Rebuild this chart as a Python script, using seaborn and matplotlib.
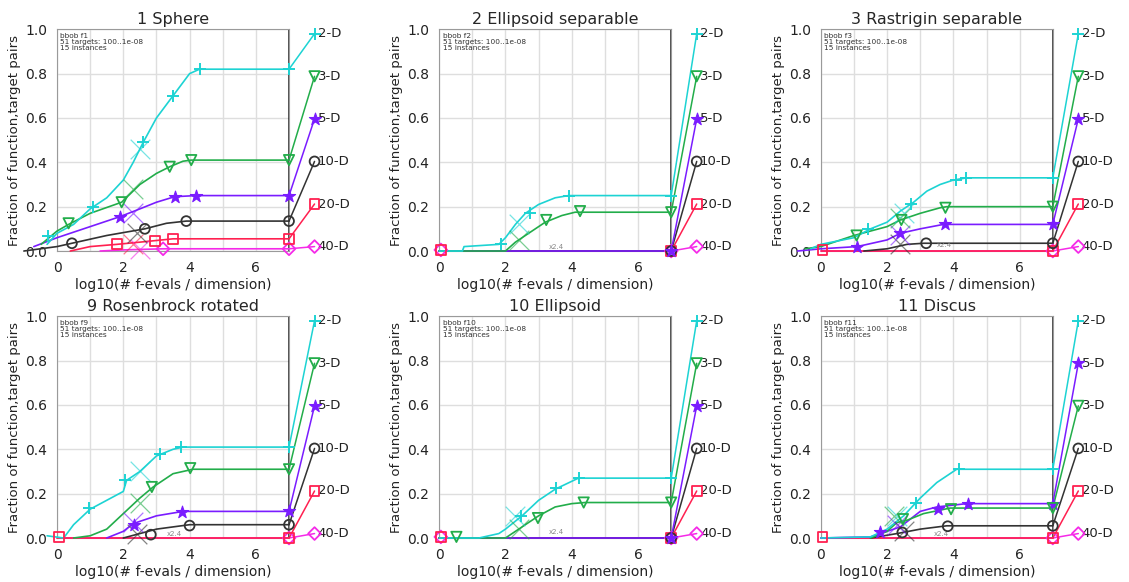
import matplotlib
matplotlib.use("Agg")
import matplotlib.pyplot as plt
from matplotlib.ticker import FixedLocator, FormatStrFormatter
import seaborn as sns

# ---------------- data ----------------
DIMS = ["2-D", "3-D", "5-D", "10-D", "20-D", "40-D"]
TITLES = ["1 Sphere", "2 Ellipsoid separable", "3 Rastrigin separable",
          "9 Rosenbrock rotated", "10 Ellipsoid", "11 Discus"]
FIDS = [1, 2, 3, 9, 10, 11]
LABEL_Y = [0.98, 0.788, 0.596, 0.404, 0.212, 0.02]
X_TICKS = [0, 2, 4, 6]
Y_TICKS = [0.0, 0.2, 0.4, 0.6, 0.8, 1.0]
MAX_X = 7.0
LABEL_X = 7.77

ZERO = ([0, 7], [0, 0])

# panel f1
F1_CURVES = {
    "2-D": ([-0.3, 0, 0.5, 1, 1.5, 2, 2.3, 2.6, 3, 3.5, 4, 4.3, 7],
            [0.03, 0.08, 0.12, 0.19, 0.24, 0.32, 0.40, 0.49, 0.60, 0.70, 0.80, 0.82, 0.82]),
    "3-D": ([-0.48, 0, 0.35, 1, 1.95, 2.5, 3, 3.4, 3.8, 4.05, 7],
            [0.03, 0.09, 0.12, 0.17, 0.22, 0.30, 0.35, 0.38, 0.405, 0.41, 0.41]),
    "5-D": ([-0.7, 0, 1, 1.9, 2.5, 3, 3.55, 4.2, 7],
            [0.02, 0.06, 0.11, 0.155, 0.19, 0.22, 0.245, 0.25, 0.25]),
    "10-D": ([-1.0, 0, 0.45, 1.5, 2.65, 3.3, 3.9, 7],
             [0.0, 0.02, 0.035, 0.07, 0.10, 0.125, 0.135, 0.135]),
    "20-D": ([0.4, 1, 1.8, 2.5, 3.5, 7], [0.0, 0.02, 0.03, 0.04, 0.055, 0.055]),
    "40-D": ([1.3, 2, 3.2, 7], [0.0, 0.005, 0.01, 0.01]),
}
F1_MARKS = {
    "2-D": ([-0.27, 1.1, 2.6, 3.5, 4.3, 7], [0.067, 0.2, 0.49, 0.70, 0.82, 0.82]),
    "3-D": ([0.35, 1.95, 3.4, 4.05, 7], [0.125, 0.22, 0.38, 0.41, 0.41]),
    "5-D": ([1.9, 3.55, 4.2, 7], [0.155, 0.245, 0.25, 0.25]),
    "10-D": ([0.45, 2.65, 3.9, 7], [0.035, 0.10, 0.135, 0.135]),
    "20-D": ([1.8, 2.95, 3.5, 7], [0.03, 0.045, 0.055, 0.055]),
    "40-D": ([3.2, 7], [0.01, 0.01]),
}
F1_CROSSES = {"2-D": (2.5, 0.46), "3-D": (2.3, 0.28), "5-D": (2.3, 0.17),
              "10-D": (2.4, 0.08), "20-D": (2.3, 0.03), "40-D": (2.5, 0.01)}
F1_ORDER = ["2-D", "3-D", "5-D", "10-D", "20-D", "40-D"]
F1_NOTE = None

# panel f2
F2_CURVES = {
    "2-D": ([0, 0.7, 0.75, 1.8, 2, 2.3, 2.6, 3, 3.5, 3.9, 7],
            [0, 0.0, 0.02, 0.03, 0.06, 0.12, 0.17, 0.21, 0.24, 0.25, 0.25]),
    "3-D": ([0, 2, 2.3, 2.7, 3.2, 3.7, 4.1, 7],
            [0, 0.0, 0.04, 0.08, 0.13, 0.16, 0.175, 0.175]),
    "5-D": ZERO, "10-D": ZERO, "20-D": ZERO, "40-D": ZERO,
}
F2_MARKS = {
    "2-D": ([1.88, 2.73, 3.93, 7], [0.03, 0.17, 0.25, 0.25]),
    "3-D": ([3.23, 4.25, 7], [0.14, 0.18, 0.175]),
    "5-D": ([7], [0]), "10-D": ([7], [0]),
    "20-D": ([0.05, 7], [0.005, 0]), "40-D": ([0.05, 7], [0.005, 0]),
}
F2_CROSSES = {"2-D": (2.4, 0.12), "3-D": (2.4, 0.05)}
F2_ORDER = ["2-D", "3-D", "5-D", "10-D", "20-D", "40-D"]
F2_NOTE = (3.3, 0.02)

# panel f3
F3_CURVES = {
    "2-D": ([-0.3, 0, 1, 1.5, 2, 2.4, 2.8, 3.2, 3.6, 4, 4.4, 7],
            [0.01, 0.03, 0.06, 0.10, 0.13, 0.18, 0.22, 0.27, 0.30, 0.32, 0.33, 0.33]),
    "3-D": ([-0.48, 0, 1, 2, 2.4, 3, 3.6, 3.8, 7],
            [0.01, 0.02, 0.07, 0.11, 0.14, 0.17, 0.195, 0.20, 0.20]),
    "5-D": ([-0.7, 0, 1.1, 2, 2.4, 3, 3.7, 7],
            [0.0, 0.01, 0.02, 0.05, 0.08, 0.10, 0.12, 0.12]),
    "10-D": ([1.3, 2, 2.6, 3.1, 7], [0.0, 0.01, 0.03, 0.035, 0.035]),
    "20-D": ZERO, "40-D": ZERO,
}
F3_MARKS = {
    "2-D": ([1.43, 2.73, 4.08, 4.38, 7], [0.10, 0.21, 0.32, 0.33, 0.33]),
    "3-D": ([1.08, 2.43, 3.76, 7], [0.07, 0.14, 0.195, 0.20]),
    "5-D": ([1.08, 2.38, 3.76, 7], [0.02, 0.08, 0.12, 0.12]),
    "10-D": ([3.18, 7], [0.035, 0.035]),
    "20-D": ([0.05, 7], [0.005, 0]), "40-D": ([7], [0]),
}
F3_CROSSES = {"2-D": (2.5, 0.17), "3-D": (2.4, 0.15), "5-D": (2.4, 0.07),
              "10-D": (2.4, 0.03)}
F3_ORDER = ["2-D", "3-D", "5-D", "10-D", "20-D", "40-D"]
F3_NOTE = (3.5, 0.025)

# panel f9
F9_CURVES = {
    "2-D": ([-0.3, 0.2, 0.5, 1, 1.5, 2, 2.1, 2.5, 3, 3.5, 3.8, 7],
            [0.01, 0.0, 0.06, 0.13, 0.17, 0.21, 0.26, 0.30, 0.37, 0.40, 0.41, 0.41]),
    "3-D": ([0.5, 1, 1.5, 2, 2.5, 2.9, 3.5, 4.1, 7],
            [0.0, 0.01, 0.04, 0.11, 0.18, 0.23, 0.29, 0.31, 0.31]),
    "5-D": ([1.5, 2, 2.3, 3, 3.8, 7], [0.0, 0.03, 0.065, 0.10, 0.12, 0.12]),
    "10-D": ([2, 2.5, 3, 4, 7], [0.0, 0.02, 0.04, 0.06, 0.06]),
    "20-D": ZERO, "40-D": ZERO,
}
F9_MARKS = {
    "2-D": ([0.98, 2.06, 3.1, 3.73, 7], [0.135, 0.26, 0.38, 0.41, 0.41]),
    "3-D": ([2.86, 4.02, 7], [0.23, 0.315, 0.31]),
    "5-D": ([2.33, 3.76, 7], [0.06, 0.117, 0.12]),
    "10-D": ([2.83, 4.0, 7], [0.015, 0.056, 0.06]),
    "20-D": ([0.05, 7], [0.005, 0]), "40-D": ([7], [0]),
}
F9_CROSSES = {"2-D": (2.5, 0.30), "3-D": (2.5, 0.16), "5-D": (2.3, 0.07),
              "10-D": (2.4, 0.02)}
F9_ORDER = ["2-D", "3-D", "5-D", "10-D", "20-D", "40-D"]
F9_NOTE = (3.3, 0.02)

# panel f10
F10_CURVES = {
    "2-D": ([0, 1.2, 1.8, 2, 2.5, 3, 3.5, 4.2, 7],
            [0, 0.0, 0.02, 0.04, 0.10, 0.17, 0.22, 0.27, 0.27]),
    "3-D": ([0, 2, 2.5, 3, 3.5, 4, 4.4, 7],
            [0, 0.0, 0.05, 0.10, 0.14, 0.155, 0.16, 0.16]),
    "5-D": ZERO, "10-D": ZERO, "20-D": ZERO, "40-D": ZERO,
}
F10_MARKS = {
    "2-D": ([2.48, 3.53, 4.23, 7], [0.10, 0.225, 0.27, 0.27]),
    "3-D": ([0.52, 2.98, 4.36, 7], [0.005, 0.09, 0.16, 0.16]),
    "5-D": ([7], [0]), "10-D": ([7], [0]),
    "20-D": ([0.05, 7], [0.005, 0]), "40-D": ([0.05, 7], [0.005, 0]),
}
F10_CROSSES = {"2-D": (2.3, 0.10), "3-D": (2.4, 0.04)}
F10_ORDER = ["2-D", "3-D", "5-D", "10-D", "20-D", "40-D"]
F10_NOTE = (3.3, 0.025)

# panel f11
F11_CURVES = {
    "2-D": ([0, 1.5, 2, 2.5, 3, 3.5, 4, 4.1, 7],
            [0, 0.005, 0.04, 0.10, 0.18, 0.25, 0.30, 0.31, 0.31]),
    "3-D": ([1.5, 2, 2.3, 2.6, 3.1, 3.9, 7],
            [0.0, 0.03, 0.07, 0.08, 0.11, 0.135, 0.135]),
    "5-D": ([0, 1.5, 1.8, 2.4, 3, 3.5, 4.4, 7],
            [0, 0.005, 0.02, 0.05, 0.12, 0.14, 0.155, 0.155]),
    "10-D": ([1.5, 2.3, 3, 3.8, 7], [0.0, 0.02, 0.04, 0.055, 0.055]),
    "20-D": ZERO, "40-D": ZERO,
}
F11_MARKS = {
    "2-D": ([2.88, 4.16, 7], [0.16, 0.31, 0.31]),
    "3-D": ([2.48, 3.93, 7], [0.085, 0.13, 0.135]),
    "5-D": ([1.8, 3.53, 4.43, 7], [0.025, 0.13, 0.155, 0.155]),
    "10-D": ([2.46, 3.83, 7], [0.025, 0.053, 0.055]),
    "20-D": ([0.05, 7], [0.005, 0]), "40-D": ([7], [0]),
}
F11_CROSSES = {"2-D": (2.3, 0.10), "3-D": (2.2, 0.10), "5-D": (2.3, 0.06),
               "10-D": (2.5, 0.03)}
F11_ORDER = ["2-D", "5-D", "3-D", "10-D", "20-D", "40-D"]
F11_NOTE = (3.4, 0.02)

# ---------------- styles ----------------
COLORS = {"2-D": "#1dd3d3", "3-D": "#22ad4a", "5-D": "#7a1cff",
          "10-D": "#333333", "20-D": "#ff2050", "40-D": "#f52ae8"}
MARKERS = {"2-D": "+", "3-D": "v", "5-D": "*", "10-D": "o", "20-D": "s", "40-D": "D"}
MSIZE = {"2-D": 85, "3-D": 55, "5-D": 85, "10-D": 50, "20-D": 50, "40-D": 42}

PANELS = [
    (F1_CURVES, F1_MARKS, F1_CROSSES, F1_ORDER, F1_NOTE),
    (F2_CURVES, F2_MARKS, F2_CROSSES, F2_ORDER, F2_NOTE),
    (F3_CURVES, F3_MARKS, F3_CROSSES, F3_ORDER, F3_NOTE),
    (F9_CURVES, F9_MARKS, F9_CROSSES, F9_ORDER, F9_NOTE),
    (F10_CURVES, F10_MARKS, F10_CROSSES, F10_ORDER, F10_NOTE),
    (F11_CURVES, F11_MARKS, F11_CROSSES, F11_ORDER, F11_NOTE),
]

sns.set_style("whitegrid", {"grid.color": "#dedede", "axes.edgecolor": "#9a9a9a"})
plt.rcParams["font.family"] = ["DejaVu Sans"]

fig = plt.figure(figsize=(11.29, 5.82), dpi=100)
LEFTS = [0.0505, 0.389, 0.727]
BOTTOMS = [0.5687, 0.0756]
W, H = 0.2055, 0.381


def scatter(ax, xs, ys, d, s, **kw):
    m = MARKERS[d]
    c = COLORS[d]
    if m in ("+", "x"):
        sns.scatterplot(x=xs, y=ys, marker=m, s=s, color=c, linewidth=1.4,
                        ax=ax, clip_on=False, zorder=5, legend=False, **kw)
    elif m == "*":
        sns.scatterplot(x=xs, y=ys, marker=m, s=s, color=c, edgecolor=c,
                        linewidth=0.8, ax=ax, clip_on=False, zorder=5, legend=False, **kw)
    else:
        sns.scatterplot(x=xs, y=ys, marker=m, s=s, facecolor="none", edgecolor=c,
                        linewidth=1.3, ax=ax, clip_on=False, zorder=5, legend=False, **kw)


for i, (curves, marks, crosses, order, note) in enumerate(PANELS):
    ax = fig.add_axes([LEFTS[i % 3], BOTTOMS[i // 3], W, H])
    ax.set_xlim(0, MAX_X)
    ax.set_ylim(0, 1)
    ax.axvline(MAX_X, color="k", lw=2.0, alpha=0.75, zorder=2)
    for d in DIMS[::-1]:
        xs, ys = curves[d]
        c = COLORS[d]
        sns.lineplot(x=xs, y=ys, color=c, lw=1.2, estimator=None, sort=False,
                     ax=ax, clip_on=False, zorder=3, legend=False)
        rank = order.index(d)
        sns.lineplot(x=[MAX_X, LABEL_X], y=[ys[-1], LABEL_Y[rank]], color=c, lw=1.1,
                     estimator=None, sort=False, ax=ax, clip_on=False, zorder=3,
                     legend=False)
        mx, my = marks[d]
        scatter(ax, mx, my, d, MSIZE[d])
        scatter(ax, [LABEL_X], [LABEL_Y[rank]], d, MSIZE[d])
        ax.text(LABEL_X + 0.1, LABEL_Y[rank], d, fontsize=9.5, color="#222222",
                ha="left", va="center", clip_on=False)
        if d in crosses:
            cx, cy = crosses[d]
            sns.scatterplot(x=[cx], y=[cy], marker="x", s=200, color=c, linewidth=0.9,
                            alpha=0.6, ax=ax, clip_on=False, zorder=4, legend=False)
    if note is not None:
        ax.text(note[0], note[1], "x2.4", fontsize=5, color="#888888", va="center")
    ax.text(0.015, 0.985, f"bbob f{FIDS[i]}\n51 targets: 100..1e-08\n15 instances",
            transform=ax.transAxes, fontsize=5.3, va="top", ha="left",
            color="#333333", linespacing=1.05)
    ax.set_xticks(X_TICKS)
    ax.xaxis.set_minor_locator(FixedLocator([1, 3, 5]))
    ax.set_yticks(Y_TICKS)
    ax.yaxis.set_major_formatter(FormatStrFormatter("%.1f"))
    ax.grid(which="both", color="#dedede", lw=1)
    ax.tick_params(labelsize=10, colors="#222222")
    ax.set_xlabel("log10(# f-evals / dimension)", fontsize=10, labelpad=2, color="#222222")
    ax.set_ylabel("Fraction of function,target pairs", fontsize=9.5, labelpad=3,
                  color="#222222")
    ax.set_title(TITLES[i], fontsize=11.5, pad=4)

fig.savefig("out.png", dpi=100)
